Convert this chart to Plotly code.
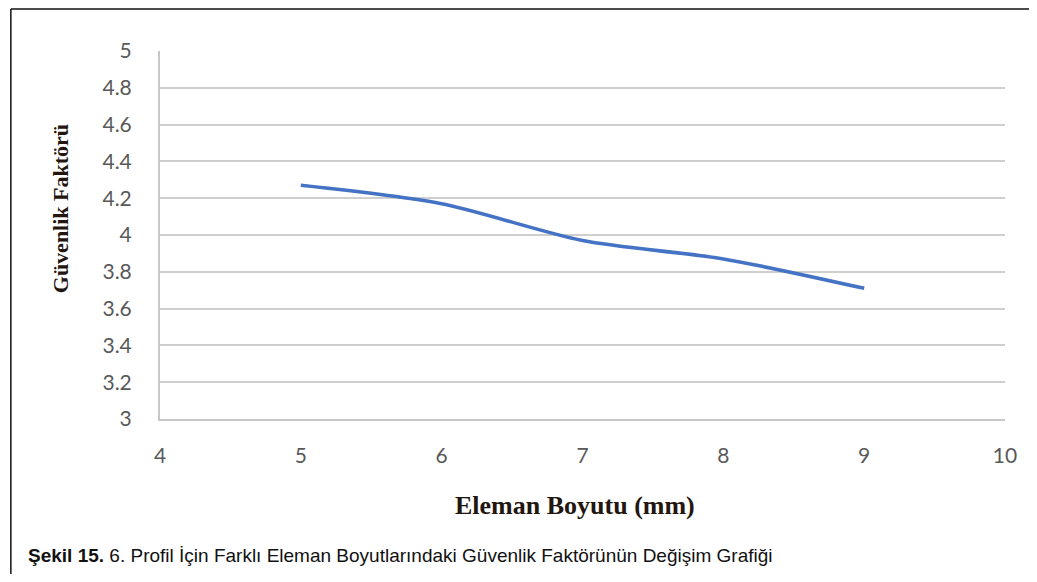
import plotly.graph_objects as go

# Data
eleman_boyutu = [5, 6, 7, 8, 9]
guvenlik_faktoru = [4.27, 4.17, 3.97, 3.87, 3.71]

x_tick_vals = [4, 5, 6, 7, 8, 9, 10]
x_tick_text = ["4", "5", "6", "7", "8", "9", "10"]
y_tick_vals = [3, 3.2, 3.4, 3.6, 3.8, 4, 4.2, 4.4, 4.6, 4.8, 5]
y_tick_text = ["3", "3.2", "3.4", "3.6", "3.8", "4", "4.2", "4.4", "4.6", "4.8", "5"]

# page has an 8px body margin; figure sized to fit inside the window
OFF = 8
W, H = 1037 - 2 * OFF, 582 - 2 * OFF
L, T = 160 - OFF, 51 - OFF
pw, ph = 847, 368
R = W - L - pw
B = H - T - ph

def px(xpage):
    return (xpage - OFF - L) / pw

def py(ypage):
    return (H - B - (ypage - OFF)) / ph

fig = go.Figure()
fig.add_trace(go.Scatter(
    x=eleman_boyutu, y=guvenlik_faktoru, mode="lines",
    line=dict(color="#4472C4", width=3.6, shape="spline", smoothing=0.8),
    showlegend=False, hoverinfo="x+y",
))

tickfont = dict(family="Lato, Open Sans, sans-serif", size=21, color="#595959")

fig.update_xaxes(
    range=[4, 10], tickvals=x_tick_vals, ticktext=x_tick_text,
    showgrid=False, zeroline=False, showline=True, linecolor="#c8c8c8", linewidth=2,
    ticks="", tickfont=tickfont, ticklabelstandoff=17,
)
fig.update_yaxes(
    range=[3, 5], tickvals=y_tick_vals, ticktext=y_tick_text,
    showgrid=True, gridcolor="#cfcfcf", gridwidth=2, zeroline=False,
    showline=True, linecolor="#c8c8c8", linewidth=2,
    ticks="", tickfont=tickfont, ticklabelstandoff=22,
)

annotations = [
    dict(text="<b>Eleman Boyutu (mm)</b>", x=px(576), y=py(505), xref="paper", yref="paper",
         showarrow=False,
         font=dict(family="Liberation Serif, Times New Roman, serif", size=26, color="#22160f"),
         xanchor="center", yanchor="middle"),
    dict(text="<b>Güvenlik Faktörü</b>", x=px(60), y=py(209), xref="paper", yref="paper",
         showarrow=False,
         font=dict(family="Liberation Serif, Times New Roman, serif", size=22, color="#22160f"),
         textangle=-90, xanchor="center", yanchor="middle"),
    dict(text="<b>Şekil 15.</b> 6. Profil İçin Farklı Eleman Boyutlarındaki Güvenlik Faktörünün Değişim Grafiği",
         x=px(26), y=py(555), xref="paper", yref="paper", showarrow=False,
         font=dict(family="Liberation Sans, Arial, sans-serif", size=19, color="#111111"),
         xanchor="left", yanchor="middle"),
]

shapes = [
    dict(type="line", xref="paper", yref="paper", x0=px(10.5), x1=px(10.5), y0=py(9), y1=py(600),
         line=dict(color="#111111", width=1.5)),
    dict(type="line", xref="paper", yref="paper", x0=px(10.5), x1=px(1060), y0=py(9), y1=py(9),
         line=dict(color="#111111", width=1.5)),
]

fig.update_layout(
    width=W, height=H, margin=dict(l=L, r=R, t=T, b=B),
    paper_bgcolor="white", plot_bgcolor="white",
    annotations=annotations, shapes=shapes,
)

fig.write_html("out.html")
